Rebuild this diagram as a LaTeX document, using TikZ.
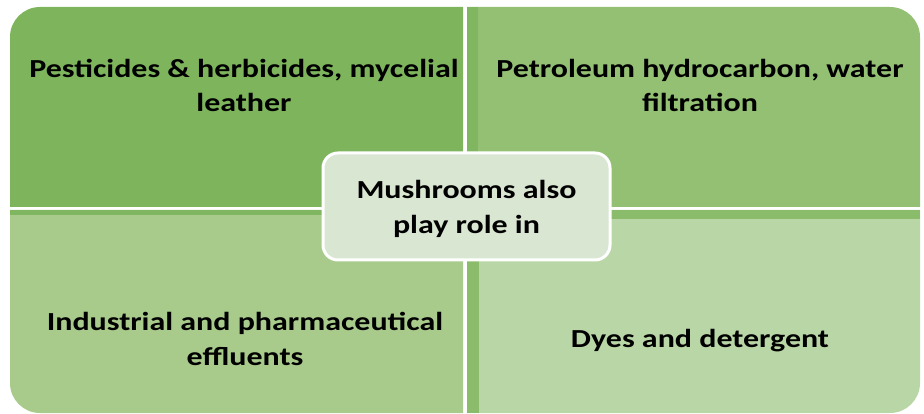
\documentclass[tikz,border=0pt]{standalone}
\usepackage{fontspec}
\setmainfont{Carlito}[FakeStretch=1.23]
\usepackage{tikz}
\usetikzlibrary{positioning}
\usepackage{xcolor}
\definecolor{greenA}{HTML}{7EB55C}
\definecolor{greenB}{HTML}{93C073}
\definecolor{greenC}{HTML}{A8CB8B}
\definecolor{greenD}{HTML}{B9D7A6}
\definecolor{stripA}{HTML}{80B660}
\definecolor{stripB}{HTML}{8BBC6B}
\definecolor{hubGreen}{HTML}{D9E6D2}

\begin{document}
\begin{tikzpicture}[x=1pt, y=-1pt,
    quadText/.style={align=center, inner sep=0pt, font=\fontsize{26}{34}\selectfont\bfseries, text=black},
    hubBox/.style={rectangle, rounded corners=15pt, draw=white, line width=3pt, fill=hubGreen,
        minimum width=287pt, minimum height=107pt, align=center, inner sep=0pt,
        font=\fontsize{26}{35}\selectfont\bfseries}
]
    \useasboundingbox (0,0) rectangle (924,414);

    % Quadranti
    \fill[greenA] (10,207) [rounded corners=30pt] -- (10,7) [sharp corners] -- (463,7) -- (463,207) -- cycle;
    \fill[greenB] (467,7) [rounded corners=30pt] -- (920,7) [sharp corners] -- (920,207) -- (467,207) -- cycle;
    \fill[greenC] (10,210) -- (463,210) -- (463,413) [rounded corners=30pt] -- (10,413) [sharp corners] -- cycle;
    \fill[greenD] (467,210) -- (920,210) [rounded corners=30pt] -- (920,413) [sharp corners] -- (467,413) -- cycle;

    % Bande piu scure sui bordi interni
    \fill[stripA] (467,7) rectangle (478,207);
    \fill[stripA] (10,210) rectangle (463,215);
    \fill[stripB] (467,210) rectangle (479,413);
    \fill[stripB] (467,210) rectangle (920,219);

    % Testi dei quadranti
    \node[quadText] (pest) at (244,85) {Pesticides \& herbicides, mycelial\\leather};
    \node[quadText] (petro) at (700,85) {Petroleum hydrocarbon, water\\filtration};
    \node[quadText, font=\fontsize{26}{35}\selectfont\bfseries] (indus) at (245,339) {Industrial and pharmaceutical\\effluents};
    \node[quadText] (dyes) at (700,341) {Dyes and detergent};

    % Nodo centrale
    \node[hubBox] (hub) at (466.5,206.5) {};
    \node[quadText, font=\fontsize{26}{35}\selectfont\bfseries] (hubtext) at (466.5,209) {Mushrooms also\\play role in};
\end{tikzpicture}
\end{document}
